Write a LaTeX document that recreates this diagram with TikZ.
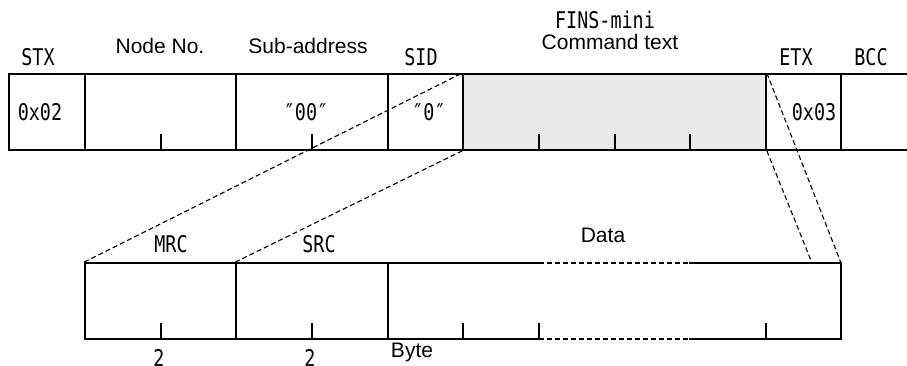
\documentclass[tikz,border=0pt]{standalone}
\usepackage{fontspec}
\newfontfamily\arialf{Liberation Sans}
\newfontfamily\gothicf{DejaVu Sans Mono}
\definecolor{cellgray}{RGB}{234,234,236}
\newcommand{\nartext}[1]{\scalebox{0.8}[1]{\gothicf\fontsize{23}{23}\selectfont #1}}
\begin{document}
\begin{tikzpicture}[x=1pt,y=-1pt,
  cell/.style={draw,line width=1.7pt,inner sep=0pt,minimum height=76pt},
  tick/.style={line width=1.7pt},
  dline/.style={line width=1.1pt,dash pattern=on 5pt off 3pt},
  arl/.style={font=\arialf\fontsize{21}{21}\selectfont,inner sep=0pt,anchor=base},
  nar/.style={inner sep=0pt,anchor=base}]
\useasboundingbox (0,0) rectangle (907,365);
% top row
\node[cell,minimum width=76pt] (stx) at (47,112) {};
\node[cell,minimum width=151pt] (nodeno) at (160.5,112) {};
\node[cell,minimum width=152pt] (subad) at (312,112) {};
\node[cell,minimum width=75pt] (sid) at (425.5,112) {};
\node[cell,minimum width=303pt,fill=cellgray] (fins) at (614.5,112) {};
\node[cell,minimum width=75pt] (etx) at (803.5,112) {};
\node[cell,minimum width=100pt] (bcc) at (891,112) {};
\foreach \x in {161,312,539,615,690} \draw[tick] (\x,134) -- (\x,150);
% bottom row
\node[cell,minimum width=151pt] (mrc) at (160.5,301) {};
\node[cell,minimum width=152pt] (src) at (312,301) {};
\coordinate (dtl) at (388,263);
\coordinate (dbl) at (388,339);
\coordinate (dtr) at (841,263);
\coordinate (dbr) at (841,339);
\coordinate (dta) at (539,263);
\coordinate (dtb) at (689,263);
\coordinate (dba) at (539,339);
\coordinate (dbb) at (689,339);
\draw[line width=1.7pt] (dta) -- (dtl) -- (dbl) -- (dba);
\draw[line width=1.7pt] (dtb) -- (dtr) -- (dbr) -- (dbb);
\draw[dline] (dta) -- (dtb);
\draw[dline] (dba) -- (dbb);
\foreach \x in {161,312,463,539,766} \draw[tick] (\x,323) -- (\x,339);
% expansion lines
\coordinate (ee) at (812,263);
\draw[dline] (mrc.north west) -- (fins.north west);
\draw[dline] (src.north west) -- (fins.south west);
\draw[dline] (fins.north east) -- (dtr);
\draw[dline] (fins.south east) -- (ee);
% labels
\node[nar] (lstx) at (38,65) {\nartext{STX}};
\node[arl] (lnode) at (160,53) {Node No.};
\node[arl] (lsub) at (308,53) {Sub-address};
\node[nar] (lsid) at (421,65) {\nartext{SID}};
\node[nar] (lfins) at (605,28) {\nartext{FINS-mini}};
\node[arl] (lcmd) at (610,49) {Command text};
\node[nar] (letx) at (796,65) {\nartext{ETX}};
\node[nar] (lbcc) at (871,65) {\nartext{BCC}};
\node[nar] (v02) at (40,120) {\nartext{0x02}};
\node[nar] (v00) at (306,120) {\nartext{″00″}};
\node[nar] (v0) at (429,120) {\nartext{″0″}};
\node[nar] (v03) at (814,120) {\nartext{0x03}};
\node[nar] (lmrc) at (171,252) {\nartext{MRC}};
\node[nar] (lsrc) at (319,252) {\nartext{SRC}};
\node[arl] (ldata) at (603,242) {Data};
\node[arl] (lbyte) at (412,357) {Byte};
\node[nar] (n1) at (159,366) {\nartext{2}};
\node[nar] (n2) at (310,366) {\nartext{2}};
\end{tikzpicture}
\end{document}
